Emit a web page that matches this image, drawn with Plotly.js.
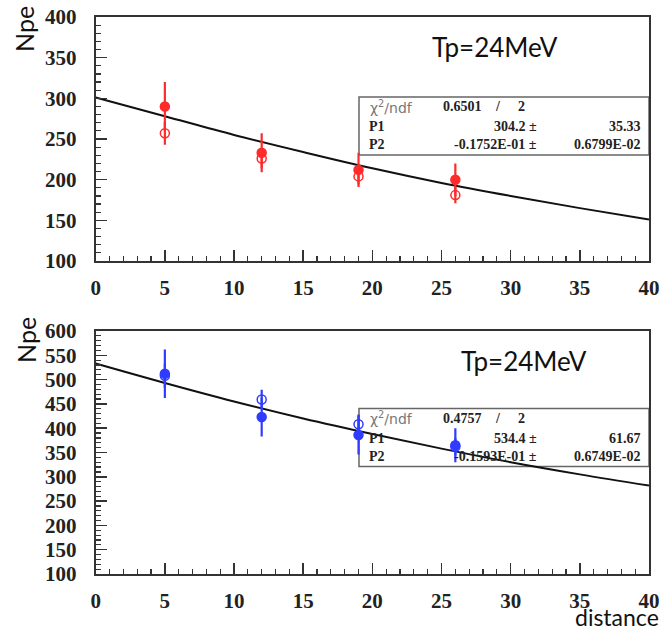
<!DOCTYPE html>
<html>
<head>
<meta charset="utf-8">
<script src="https://cdn.plot.ly/plotly-3.0.1.min.js"></script>
<style>html,body{margin:0;padding:0;background:#fff;}#chart{width:665px;height:633px;}</style>
</head>
<body>
<div id="chart"></div>
<script>
// ---- data ----
var distances = [5, 12, 19, 26];
// top panel (red)
var topFilled = [290, 233, 212, 200];
var topFilledErr = [30, 24, 21, 20];
var topOpen = [257, 226, 204, 181];
var topOpenErr = [14, 12, 10, 10];
var fitX = [0, 5, 10, 15, 20, 25, 30, 35, 40];
var topFit = [301, 278, 255, 234, 214, 196, 180, 165, 151];
// bottom panel (blue)
var botFilled = [512, 423, 386, 365];
var botFilledErr = [50, 40, 40, 35];
var botOpen = [508, 459, 408, 362];
var botOpenErr = [25, 20, 20, 18];
var botFit = [533, 493, 455, 420, 388, 358, 330, 305, 282];
// labels
var energyLabel = "Tp=24MeV";
var yLabel = "Npe";
var xLabel = "distance";
var topStats = {chi: "0.6501", ndf: "2", p1: "304.2 \u00b1", p1e: "35.33", p2: "-0.1752E-01 \u00b1", p2e: "0.6799E-02"};
var botStats = {chi: "0.4757", ndf: "2", p1: "534.4 \u00b1", p1e: "61.67", p2: "-0.1593E-01 \u00b1", p2e: "0.6749E-02"};

var W = 665, H = 633;
function px(x){ return x / W; }
function py(y){ return 1 - y / H; }

var red = "#ff2a2a", blue = "#2f3cff";
function pts(y, err, col, open, xa, ya){
  return {
    x: distances, y: y, xaxis: xa, yaxis: ya, type: "scatter", mode: "markers",
    marker: {symbol: open ? "circle-open" : "circle", size: 9, color: col, line: {color: col, width: 1.5}},
    error_y: {type: "data", array: err, visible: true, color: col, thickness: 2.2, width: 0},
    showlegend: false, hoverinfo: "x+y"
  };
}
function fit(y, xa, ya){
  return {x: fitX, y: y, xaxis: xa, yaxis: ya, type: "scatter", mode: "lines",
    line: {color: "#111", width: 2, shape: "spline"}, showlegend: false};
}

var traces = [
  fit(topFit, "x", "y"),
  pts(topOpen, topOpenErr, red, true, "x", "y"),
  pts(topFilled, topFilledErr, red, false, "x", "y"),
  fit(botFit, "x2", "y2"),
  pts(botOpen, botOpenErr, blue, true, "x2", "y2"),
  pts(botFilled, botFilledErr, blue, false, "x2", "y2")
];

var tickFont = {family: "Liberation Serif", size: 21, color: "#222", weight: "bold"};
var xdom = [px(95.7), px(649)];
function xaxisDef(anchor){
  return {domain: xdom, anchor: anchor, range: [0, 40], dtick: 5, tick0: 0,
    ticks: "inside", ticklen: 11, tickwidth: 1.5, tickcolor: "#333",
    minor: {dtick: 1, ticks: "inside", ticklen: 5, tickwidth: 1.2, tickcolor: "#333"},
    showline: true, mirror: true, linecolor: "#333", linewidth: 2,
    showgrid: false, zeroline: false, tickfont: tickFont, ticklabelstandoff: 7, fixedrange: true};
}
function yaxisDef(dom, range, anchor){
  return {domain: dom, anchor: anchor, range: range, dtick: 50, tick0: 0,
    ticks: "inside", ticklen: 11, tickwidth: 1.5, tickcolor: "#333",
    minor: {dtick: 10, ticks: "inside", ticklen: 5, tickwidth: 1.2, tickcolor: "#333"},
    showline: true, mirror: true, linecolor: "#333", linewidth: 2,
    showgrid: false, zeroline: false, tickfont: tickFont, ticklabelstandoff: 13, fixedrange: true};
}

var serifB = {family: "Liberation Serif", size: 14, color: "#222", weight: "bold"};
var sansG = {family: "DejaVu Sans", size: 14, color: "#777"};
function statAnn(s, top){
  var r1 = top + 9.7, r2 = top + 29.7, r3 = top + 48;
  function a(t, x, y, anchor, font){
    return {text: t, x: px(x), y: py(y), xref: "paper", yref: "paper", xanchor: anchor, yanchor: "middle", showarrow: false, font: font};
  }
  return [
    a("\u03c7<sup>2</sup>/ndf", 368, r1, "left", sansG),
    a(s.chi, 441, r1, "left", serifB),
    a("/", 498, r1, "center", serifB),
    a(s.ndf, 521, r1, "center", serifB),
    a("P1", 367, r2, "left", serifB),
    a(s.p1, 539, r2, "right", serifB),
    a(s.p1e, 643, r2, "right", serifB),
    a("P2", 367, r3, "left", serifB),
    a(s.p2, 539, r3, "right", serifB),
    a(s.p2e, 643, r3, "right", serifB)
  ];
}

var bigFont = {family: "Lato", size: 26, color: "#111"};
var annotations = [
  {text: energyLabel, x: px(495), y: py(47), xref: "paper", yref: "paper", xanchor: "center", yanchor: "middle", showarrow: false, font: bigFont},
  {text: energyLabel, x: px(524), y: py(361), xref: "paper", yref: "paper", xanchor: "center", yanchor: "middle", showarrow: false, font: bigFont},
  {text: yLabel, x: px(24), y: py(29), xref: "paper", yref: "paper", xanchor: "center", yanchor: "middle", textangle: -90, showarrow: false, font: {family: "Lato", size: 25, color: "#111"}},
  {text: yLabel, x: px(26), y: py(340), xref: "paper", yref: "paper", xanchor: "center", yanchor: "middle", textangle: -90, showarrow: false, font: {family: "Lato", size: 25, color: "#111"}},
  {text: xLabel, x: px(661), y: py(617), xref: "paper", yref: "paper", xanchor: "right", yanchor: "middle", showarrow: false, font: {family: "Lato", size: 23, color: "#111"}}
].concat(statAnn(topStats, 97)).concat(statAnn(botStats, 408.5));

var shapes = [
  {type: "rect", xref: "paper", yref: "paper", x0: px(359), x1: px(649), y0: py(97), y1: py(155), line: {color: "#666", width: 1.5}, fillcolor: "rgba(255,255,255,1)", layer: "below"},
  {type: "rect", xref: "paper", yref: "paper", x0: px(359), x1: px(649), y0: py(408.5), y1: py(466.5), line: {color: "#666", width: 1.5}, fillcolor: "rgba(255,255,255,1)", layer: "below"}
];

var layout = {
  width: W, height: H, margin: {l: 0, r: 0, t: 0, b: 0},
  paper_bgcolor: "#fff", plot_bgcolor: "rgba(0,0,0,0)", showlegend: false,
  xaxis: xaxisDef("y"),
  yaxis: yaxisDef([py(261), py(17)], [100, 400], "x"),
  xaxis2: xaxisDef("y2"),
  yaxis2: yaxisDef([py(574), py(331)], [100, 600], "x2"),
  annotations: annotations, shapes: shapes
};

Plotly.newPlot("chart", traces, layout, {displayModeBar: false, staticPlot: true});
</script>
</body>
</html>
